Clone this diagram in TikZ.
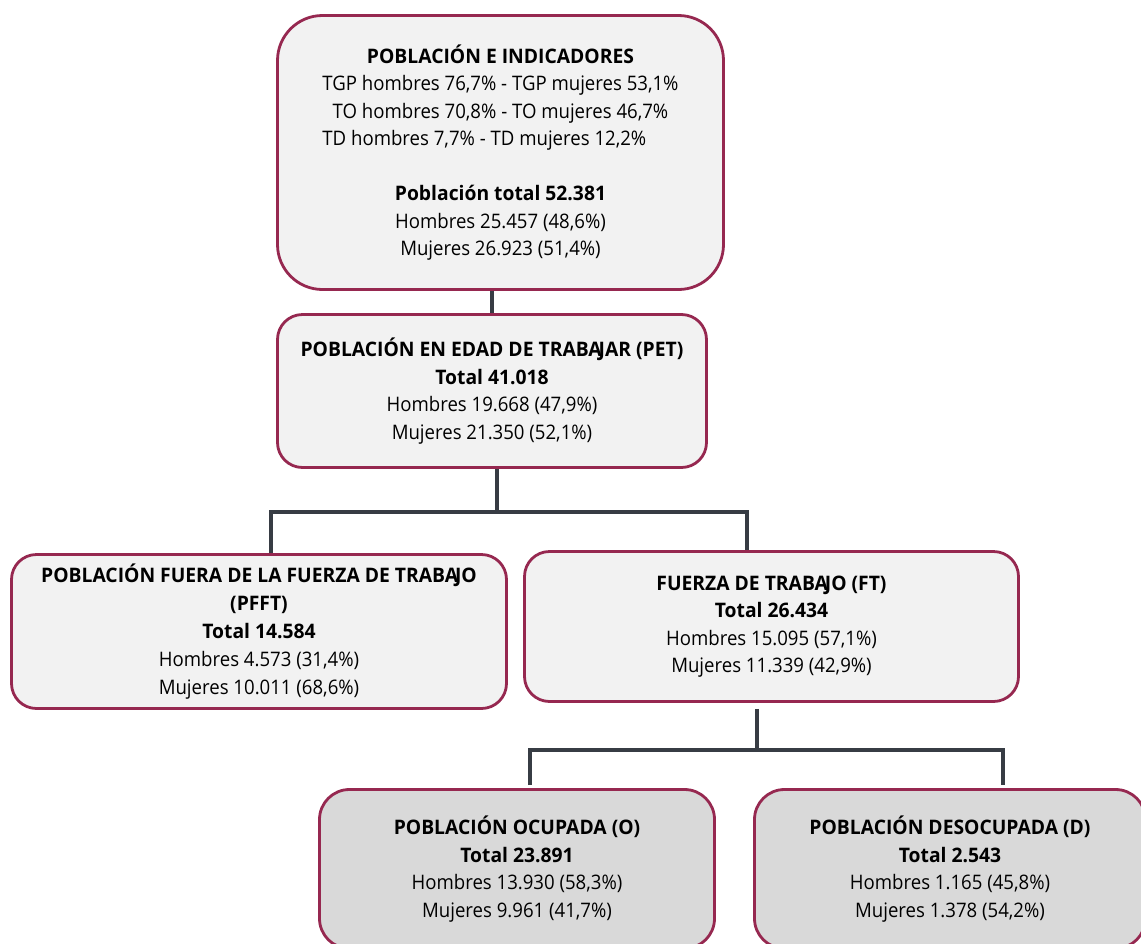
\documentclass[tikz,border=0pt]{standalone}
\usepackage{fontspec}
\setmainfont[FakeStretch=0.93,BoldFeatures={FakeStretch=0.965}]{Open Sans}
\usetikzlibrary{positioning,calc}
\definecolor{borde}{RGB}{150,40,80}
\definecolor{claro}{RGB}{242,242,242}
\definecolor{oscuro}{RGB}{217,217,217}
\definecolor{linea}{RGB}{55,60,68}
\newcommand{\tdlinea}{\makebox[0pt][l]{TD hombres 7,7\% - TD mujeres 12,2\%}\phantom{TGP hombres 76,7\% - TGP mujeres 53,1\%}}
\newcommand{\AJ}{A\kern-3pt J}

\begin{document}
\begin{tikzpicture}[x=1pt,y=-1pt,
	caja/.style={draw=borde,line width=2.8pt,fill=claro,rounded corners=25pt,align=center,inner sep=0pt,font=\fontsize{20}{27.5}\selectfont},
	rama/.style={draw=linea,line width=3.2pt}]
	\useasboundingbox (0,0) rectangle (1141,943);
	\node[caja,rounded corners=45pt,minimum width=446pt,minimum height=274pt] (pob) at (500.5,152.5) {\textbf{POBLACIÓN E INDICADORES}\\TGP hombres 76,7\% - TGP mujeres 53,1\%\\TO hombres 70,8\% - TO mujeres 46,7\%\\\tdlinea\\[27.5pt]\textbf{Población total 52.381}\\Hombres 25.457 (48,6\%)\\Mujeres 26.923 (51,4\%)};
	\node[caja,minimum width=429pt,minimum height=153pt] (pet) at (492,391) {\textbf{POBLACIÓN EN EDAD DE TRAB\AJ AR (PET)}\\\textbf{Total 41.018}\\Hombres 19.668 (47,9\%)\\Mujeres 21.350 (52,1\%)};
	\node[caja,font=\fontsize{20}{28}\selectfont,minimum width=495pt,minimum height=154pt] (pfft) at (259,631.5) {\textbf{POBLACIÓN FUERA DE LA FUERZA DE TRAB\AJ O}\\\textbf{(PFFT)}\\\textbf{Total 14.584}\\Hombres 4.573 (31,4\%)\\Mujeres 10.011 (68,6\%)};
	\node[caja,minimum width=494pt,minimum height=150pt] (ft) at (771.5,626.5) {\textbf{FUERZA DE TRAB\AJ O (FT)}\\\textbf{Total 26.434}\\Hombres 15.095 (57,1\%)\\Mujeres 11.339 (42,9\%)};
	\node[caja,fill=oscuro,rounded corners=30pt,minimum width=395pt,minimum height=159pt] (ocu) at (517,869) {\textbf{POBLACIÓN OCUPADA (O)}\\\textbf{Total 23.891}\\Hombres 13.930 (58,3\%)\\Mujeres 9.961 (41,7\%)};
	\node[caja,fill=oscuro,rounded corners=30pt,minimum width=391pt,minimum height=159pt] (des) at (950,869) {\textbf{POBLACIÓN DESOCUPADA (D)}\\\textbf{Total 2.543}\\Hombres 1.165 (45,8\%)\\Mujeres 1.378 (54,2\%)};
	\coordinate (c1) at (497,512);
	\coordinate (i1) at (271,512);
	\coordinate (d1) at (747,512);
	\coordinate (c2) at (757,750);
	\coordinate (i2) at (530,750);
	\coordinate (d2) at (1003,750);
	\draw[rama] (pob.south -| pet) -- (pet.north);
	\draw[rama] (pet.south -| c1) -- (c1);
	\draw[rama] (pfft.north -| i1) -- (i1) -- (d1) -- (ft.north -| d1);
	\draw[rama] ([yshift=-6pt]ft.south -| c2) -- (c2);
	\draw[rama] ([yshift=3pt]ocu.north -| i2) -- (i2) -- (d2) -- ([yshift=3pt]des.north -| d2);
\end{tikzpicture}
\end{document}
